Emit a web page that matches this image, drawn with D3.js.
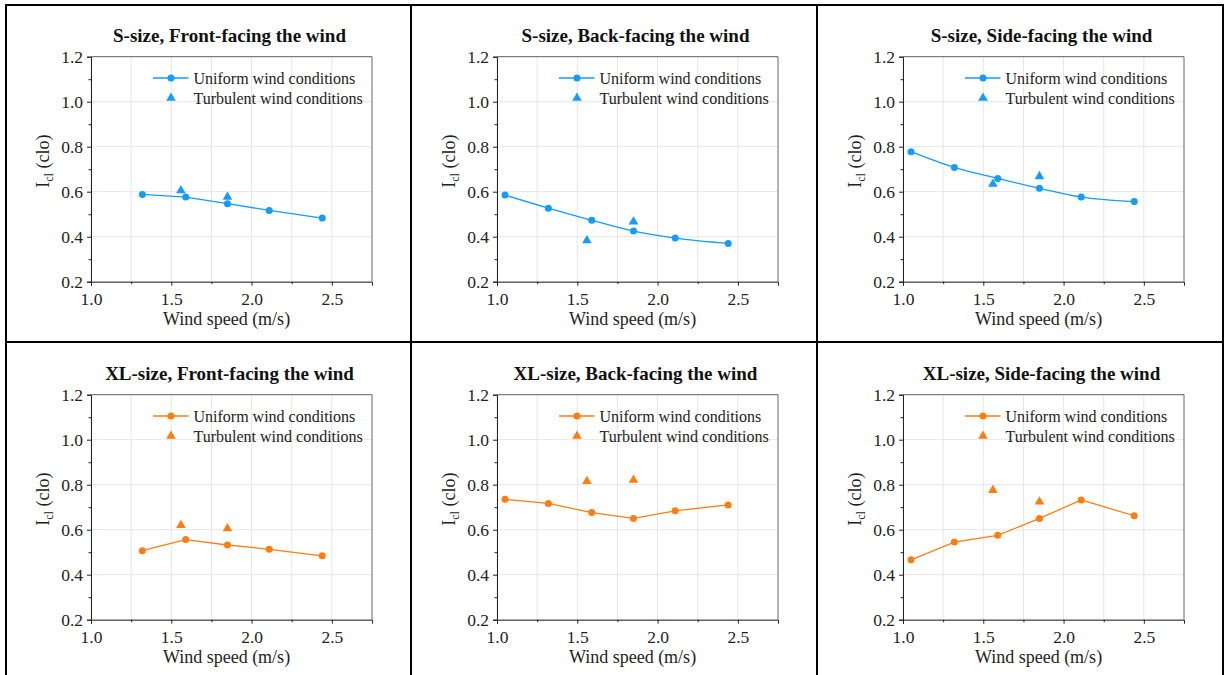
<!DOCTYPE html>
<html>
<head>
<meta charset="utf-8">
<script src="https://cdn.jsdelivr.net/npm/d3@7"></script>
<style>
  body { margin: 0; background: #fff; }
  svg { display: block; font-family: "Liberation Serif", "Times New Roman", serif; }
</style>
</head>
<body>
<script>
// wind speeds (m/s) used in the tests
var uniformSpeeds = [1.05, 1.32, 1.59, 1.85, 2.11, 2.44];
var turbulentSpeeds = [1.56, 1.85];

// clothing insulation I_cl (clo); null = not measured
var sFrontUniform = [null, 0.588, 0.576, 0.547, 0.517, 0.483];
var sFrontTurbulent = [0.605, 0.576];
var sBackUniform = [0.585, 0.527, 0.473, 0.425, 0.394, 0.370];
var sBackTurbulent = [0.383, 0.466];
var sSideUniform = [0.778, 0.708, 0.659, 0.615, 0.576, 0.556];
var sSideTurbulent = [0.634, 0.668];
var xlFrontUniform = [null, 0.507, 0.556, 0.532, 0.513, 0.484];
var xlFrontTurbulent = [0.620, 0.605];
var xlBackUniform = [0.735, 0.717, 0.676, 0.650, 0.684, 0.710];
var xlBackTurbulent = [0.815, 0.821];
var xlSideUniform = [0.466, 0.545, 0.575, 0.650, 0.732, 0.662];
var xlSideTurbulent = [0.776, 0.724];

var titles = [
  'S-size, Front-facing the wind', 'S-size, Back-facing the wind', 'S-size, Side-facing the wind',
  'XL-size, Front-facing the wind', 'XL-size, Back-facing the wind', 'XL-size, Side-facing the wind'
];
var xTicks = [1.0, 1.5, 2.0, 2.5];
var xMinorTicks = [1.25, 1.75, 2.25];
var yTicks = [0.2, 0.4, 0.6, 0.8, 1.0, 1.2];
var yMinorTicks = [0.3, 0.5, 0.7, 0.9, 1.1];
var legendLabels = ['Uniform wind conditions', 'Turbulent wind conditions'];

var blue = '#149cf8';
var orange = '#ff7d12';

var panels = [
  { title: titles[0], uni: sFrontUniform, turb: sFrontTurbulent, color: blue, curve: d3.curveLinear },
  { title: titles[1], uni: sBackUniform, turb: sBackTurbulent, color: blue, curve: d3.curveCatmullRom },
  { title: titles[2], uni: sSideUniform, turb: sSideTurbulent, color: blue, curve: d3.curveCatmullRom },
  { title: titles[3], uni: xlFrontUniform, turb: xlFrontTurbulent, color: orange, curve: d3.curveLinear },
  { title: titles[4], uni: xlBackUniform, turb: xlBackTurbulent, color: orange, curve: d3.curveLinear },
  { title: titles[5], uni: xlSideUniform, turb: xlSideTurbulent, color: orange, curve: d3.curveLinear }
];

var W = 1225, H = 675;
var plotLefts = [91, 497, 903];
var plotTops = [56.7, 394.7];
var pw = 281, ph = 225;
var serif = '"Liberation Serif", "Times New Roman", serif';

var svg = d3.select('body').append('svg')
  .attr('width', W)
  .attr('height', H);

// table borders
var colLines = [6, 411, 817, 1223];
var rowLines = [5, 342];
colLines.forEach(function(x) {
  svg.append('line').attr('x1', x).attr('x2', x).attr('y1', 4).attr('y2', H + 5)
    .attr('stroke', '#000').attr('stroke-width', 2);
});
rowLines.forEach(function(y) {
  svg.append('line').attr('x1', 5).attr('x2', 1224).attr('y1', y).attr('y2', y)
    .attr('stroke', '#000').attr('stroke-width', 2);
});

var x = d3.scaleLinear().domain([1.0, 2.75]).range([0, pw]);
var y = d3.scaleLinear().domain([0.2, 1.2]).range([ph, 0]);

panels.forEach(function(p, i) {
  var left = plotLefts[i % 3];
  var top = plotTops[Math.floor(i / 3)];
  var g = svg.append('g').attr('transform', 'translate(' + left + ',' + top + ')');

  // grid
  g.append('g').selectAll('line').data(xTicks.concat(xMinorTicks)).join('line')
    .attr('x1', function(d) { return x(d); }).attr('x2', function(d) { return x(d); })
    .attr('y1', 0).attr('y2', ph)
    .attr('stroke', '#e6e6e6').attr('stroke-width', 1);
  g.append('g').selectAll('line').data(yTicks).join('line')
    .attr('x1', 0).attr('x2', pw)
    .attr('y1', function(d) { return y(d); }).attr('y2', function(d) { return y(d); })
    .attr('stroke', '#e6e6e6').attr('stroke-width', 1);

  // frame (top / right)
  g.append('path')
    .attr('d', 'M0,0H' + pw + 'V' + ph)
    .attr('fill', 'none').attr('stroke', '#666').attr('stroke-width', 1);

  // axes
  g.append('g').attr('transform', 'translate(0,' + ph + ')')
    .call(d3.axisBottom(x).tickValues(xTicks).tickFormat(d3.format('.1f')).tickSize(4).tickPadding(7));
  g.append('g').attr('transform', 'translate(0,' + ph + ')')
    .call(d3.axisBottom(x).tickValues(xMinorTicks).tickFormat('').tickSize(2.5))
    .select('.domain').remove();
  g.append('g')
    .call(d3.axisLeft(y).tickValues(yTicks).tickFormat(d3.format('.1f')).tickSize(4).tickPadding(4));
  g.append('g')
    .call(d3.axisLeft(y).tickValues(yMinorTicks).tickFormat('').tickSize(2.5))
    .select('.domain').remove();

  g.selectAll('.tick text')
    .style('font-family', serif)
    .style('font-size', '17.5px')
    .attr('fill', '#222');
  g.selectAll('.domain').attr('stroke', '#222');
  g.selectAll('.tick line').attr('stroke', '#222');

  // title
  g.append('text')
    .attr('x', pw / 2 - 2).attr('y', -15)
    .attr('text-anchor', 'middle')
    .attr('font-size', 19).attr('font-weight', 'bold').attr('fill', '#111')
    .text(p.title);

  // axis labels
  g.append('text')
    .attr('x', pw / 2 - 5).attr('y', ph + 43)
    .attr('text-anchor', 'middle')
    .attr('font-size', 18).attr('fill', '#222')
    .text('Wind speed (m/s)');

  var yl = g.append('text')
    .attr('transform', 'translate(-42,' + (ph / 2 - 8) + ') rotate(-90)')
    .attr('text-anchor', 'middle')
    .attr('font-size', 18).attr('fill', '#222');
  yl.append('tspan').text('I');
  yl.append('tspan').attr('font-size', 12).attr('dy', 4).text('cl');
  yl.append('tspan').attr('dy', -4).text(' (clo)');

  // uniform series
  var uniPts = uniformSpeeds.map(function(s, k) { return [s, p.uni[k]]; })
    .filter(function(d) { return d[1] != null; });
  var line = d3.line()
    .x(function(d) { return x(d[0]); })
    .y(function(d) { return y(d[1]); })
    .curve(p.curve);
  g.append('path').datum(uniPts)
    .attr('d', line)
    .attr('fill', 'none').attr('stroke', p.color).attr('stroke-width', 1.3);
  g.append('g').selectAll('circle').data(uniPts).join('circle')
    .attr('cx', function(d) { return x(d[0]); })
    .attr('cy', function(d) { return y(d[1]); })
    .attr('r', 3.5)
    .attr('fill', p.color);

  // turbulent series
  var tri = d3.symbol().type(d3.symbolTriangle).size(40);
  var turbPts = turbulentSpeeds.map(function(s, k) { return [s, p.turb[k]]; });
  g.append('g').selectAll('path').data(turbPts).join('path')
    .attr('d', tri)
    .attr('transform', function(d) { return 'translate(' + x(d[0]) + ',' + y(d[1]) + ')'; })
    .attr('fill', p.color);

  // legend
  var lg = g.append('g').attr('transform', 'translate(62,21.3)');
  lg.append('line').attr('x1', 0).attr('x2', 35.5).attr('y1', 0).attr('y2', 0)
    .attr('stroke', p.color).attr('stroke-width', 1.3);
  lg.append('circle').attr('cx', 18).attr('cy', 0).attr('r', 3.5).attr('fill', p.color);
  lg.append('path').attr('d', tri).attr('transform', 'translate(18,20)').attr('fill', p.color);
  lg.selectAll('text').data(legendLabels).join('text')
    .attr('x', 40.5)
    .attr('y', function(d, k) { return k * 20 + 5.5; })
    .attr('font-size', 16).attr('fill', '#222')
    .text(function(d) { return d; });
});
</script>
</body>
</html>
